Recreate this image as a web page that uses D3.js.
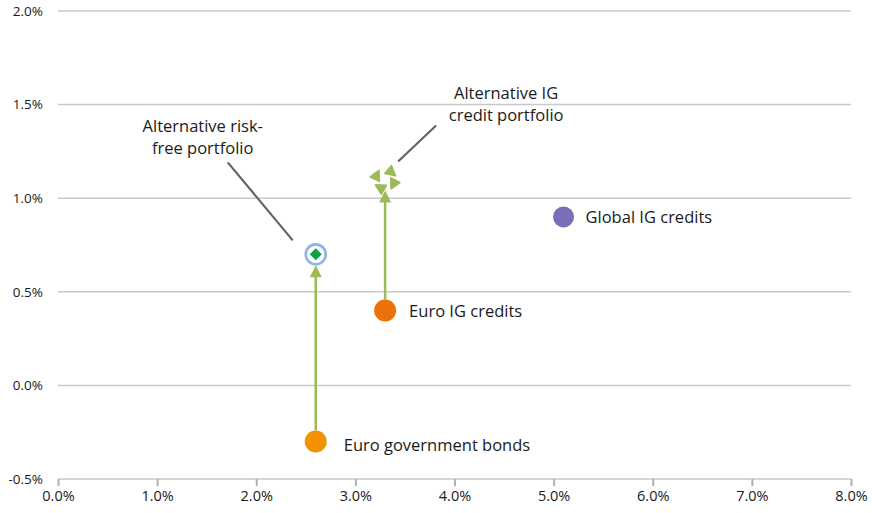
<!DOCTYPE html>
<html>
<head>
<meta charset="utf-8">
<script src="https://cdn.jsdelivr.net/npm/d3@7"></script>
<style>
  html, body { margin: 0; padding: 0; background: #fff; }
  svg text { font-family: "Open Sans", Lato, sans-serif; }
</style>
</head>
<body>
<svg id="chart" width="872" height="513"></svg>
<script>
// Risk (x, duration-adjusted) vs. return (y) of bond portfolios, in %
const names   = ["Euro government bonds", "Euro IG credits", "Global IG credits",
                 "Alternative risk-free portfolio", "Alternative IG credit portfolio"];
const xValues = [2.6, 3.3, 5.1, 2.6, 3.3];
const yValues = [-0.3, 0.4, 0.9, 0.7, 1.1];
const xTicks  = [0, 1, 2, 3, 4, 5, 6, 7, 8];
const yTicks  = [-0.5, 0, 0.5, 1.0, 1.5, 2.0];
// improvement arrows: from index -> to index
const arrowFrom = [0, 1];
const arrowTo   = [3, 4];

const svg = d3.select("#chart");
const margin = { left: 58, right: 21, top: 11, bottom: 34 };
const W = 872, H = 513;

const x = d3.scaleLinear().domain([0, 8]).range([margin.left, W - margin.right]);
const y = d3.scaleLinear().domain([-0.5, 2.0]).range([H - margin.bottom, margin.top]);

const grid = "#c9c9c9";
const textCol = "#1a1a1a";

// horizontal gridlines
svg.append("g").selectAll("line").data(yTicks).join("line")
  .attr("x1", x(0)).attr("x2", x(8))
  .attr("y1", d => y(d)).attr("y2", d => y(d))
  .attr("stroke", grid).attr("stroke-width", 1.5);

// y tick labels
svg.append("g").selectAll("text").data(yTicks).join("text")
  .attr("x", 43).attr("y", d => y(d)).attr("dy", "0.35em")
  .attr("text-anchor", "end").attr("font-size", 13.5).attr("fill", textCol)
  .text(d => d.toFixed(1) + "%");

// x axis
const xAxis = d3.axisBottom(x).tickValues(xTicks).tickSize(7).tickPadding(5)
  .tickFormat(d => d.toFixed(1) + "%");
const gx = svg.append("g").attr("transform", `translate(0,${y(-0.5)})`).call(xAxis);
gx.select(".domain").remove();
gx.selectAll(".tick line").attr("stroke", "#b0b0b0").attr("stroke-width", 2);
gx.selectAll(".tick text").attr("font-size", 14.5).attr("fill", textCol)
  .style("font-family", "'Open Sans', Lato, sans-serif");

// arrows
const arrowCol = "#9bbb59";
arrowFrom.forEach((f, i) => {
  const t = arrowTo[i];
  const xs = x(xValues[f]);
  const y0 = y(yValues[f]) - 11;
  const tip = y(yValues[t]) + 11;
  svg.append("line").attr("x1", xs).attr("x2", xs)
    .attr("y1", y0).attr("y2", tip + 10)
    .attr("stroke", arrowCol).attr("stroke-width", 2.5);
  svg.append("path")
    .attr("d", `M${xs},${tip} L${xs - 6},${tip + 12} L${xs + 6},${tip + 12} Z`)
    .attr("fill", arrowCol);
});

// callout lines
const callCol = "#5f6566";
const callouts = [
  { i: 3, x1: -88, y1: -92, x2: -23, y2: -14 },
  { i: 4, x1: 51, y1: -54, x2: 13, y2: -18 }
];
callouts.forEach(c => {
  const px = x(xValues[c.i]), py = y(yValues[c.i]);
  svg.append("line")
    .attr("x1", px + c.x1).attr("y1", py + c.y1)
    .attr("x2", px + c.x2).attr("y2", py + c.y2)
    .attr("stroke", callCol).attr("stroke-width", 2.2);
});

// plain circle markers
const circleColors = ["#f39200", "#ec7108", "#7a6eb6"];
[0, 1, 2].forEach(i => {
  svg.append("circle")
    .attr("cx", x(xValues[i])).attr("cy", y(yValues[i]))
    .attr("r", i === 2 ? 10.5 : 11).attr("fill", circleColors[i]);
});

// alternative risk-free: ringed diamond
{
  const cx = x(xValues[3]), cy = y(yValues[3]);
  svg.append("circle").attr("cx", cx).attr("cy", cy).attr("r", 10)
    .attr("fill", "#fff").attr("stroke", "#8db4e2").attr("stroke-width", 2.6);
  svg.append("path")
    .attr("d", `M${cx},${cy - 6} L${cx + 6},${cy} L${cx},${cy + 6} L${cx - 6},${cy} Z`)
    .attr("fill", "#0ba34a");
}

// alternative IG credit: pinwheel of triangles
{
  const cx = x(xValues[4]), cy = y(yValues[4]);
  const angles = [-155, -50, 27, 120];
  angles.forEach(a => {
    const r = a * Math.PI / 180;
    const tx = cx + 9.5 * Math.cos(r), ty = cy + 9.5 * Math.sin(r);
    const g = svg.append("g").attr("transform", `translate(${tx},${ty}) rotate(${a + 180})`);
    g.append("path").attr("d", "M-5,4 L5,4 L0,-5.5 Z").attr("fill", "#9bbb59")
      .attr("stroke", "#9bbb59").attr("stroke-width", 1.8).attr("stroke-linejoin", "round");
  });
}

// point labels
const labelFont = 16.5;
const labels = [
  { i: 0, dx: 28, lines: ["Euro government bonds"], anchor: "start", dy: 4 },
  { i: 1, dx: 24, lines: ["Euro IG credits"], anchor: "start", dy: 1 },
  { i: 2, dx: 22, lines: ["Global IG credits"], anchor: "start", dy: 0 }
];
labels.forEach(l => {
  svg.append("text")
    .attr("x", x(xValues[l.i]) + l.dx).attr("y", y(yValues[l.i]) + l.dy)
    .attr("dy", "0.35em").attr("text-anchor", l.anchor)
    .attr("font-size", labelFont).attr("fill", textCol).text(l.lines[0]);
});
const blockLabels = [
  { i: 3, dx: -113, dy: -128, lines: ["Alternative risk-", "free portfolio"] },
  { i: 4, dx: 121, dy: -86, lines: ["Alternative IG", "credit portfolio"] }
];
blockLabels.forEach(l => {
  const t = svg.append("text")
    .attr("x", x(xValues[l.i]) + l.dx).attr("y", y(yValues[l.i]) + l.dy)
    .attr("text-anchor", "middle").attr("font-size", labelFont).attr("fill", textCol);
  l.lines.forEach((s, k) => {
    t.append("tspan").attr("x", x(xValues[l.i]) + l.dx).attr("dy", k === 0 ? "0.35em" : "1.3em").text(s);
  });
});
</script>
</body>
</html>
